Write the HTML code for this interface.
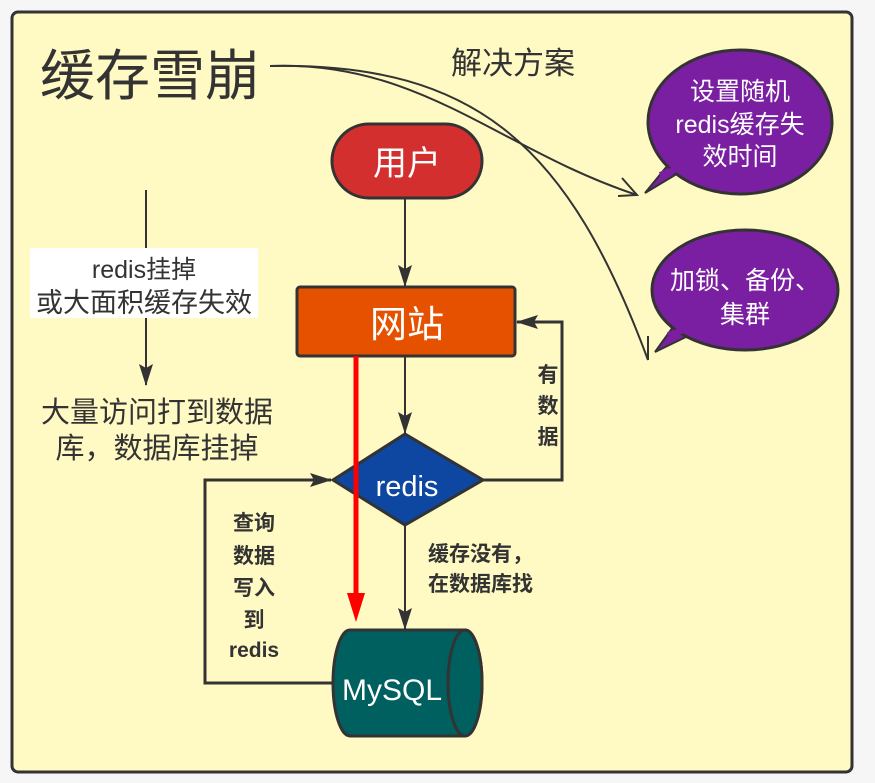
<!DOCTYPE html>
<html><head><meta charset="utf-8"><style>
html,body{margin:0;padding:0;background:#f6f6f6;}
svg{display:block;}
text{font-family:"Liberation Sans","Noto Sans CJK SC",sans-serif;}
</style></head><body>
<svg width="875" height="783" viewBox="0 0 875 783" xmlns="http://www.w3.org/2000/svg">
<defs>
<marker id="ah" viewBox="0 0 22 14" refX="21" refY="7" markerWidth="22" markerHeight="14" orient="auto-start-reverse" markerUnits="userSpaceOnUse">
<path d="M0,0 L22,7 L0,14 L4,7 z" fill="#333"/></marker>
</defs>
<rect x="12" y="12" width="840" height="760" rx="6" fill="#fff9c4" stroke="#333" stroke-width="3"/>
<text x="40" y="95" font-size="55" fill="#333">缓存雪崩</text>
<text x="451" y="74" font-size="31" fill="#333">解决方案</text>

<!-- curves -->
<path d="M270,66 C420,60 500,150 637,195" fill="none" stroke="#333" stroke-width="2"/>
<path d="M622,178 L637,195 L618,196" fill="none" stroke="#333" stroke-width="2"/>
<path d="M270,66 C480,62 570,150 648,360" fill="none" stroke="#333" stroke-width="2"/>
<path d="M648,336 L648,360" fill="none" stroke="#333" stroke-width="2"/>

<!-- bubbles -->
<path d="M680,172 L645,193 L672,160 Z" fill="#7b1fa2" stroke="#333" stroke-width="2"/>
<ellipse cx="740" cy="122" rx="92" ry="72" fill="#7b1fa2" stroke="#333" stroke-width="3"/>
<path d="M660,175 L680,168" stroke="#7b1fa2" stroke-width="6"/>
<text x="740" y="100" font-size="25" fill="#fff" text-anchor="middle">设置随机</text>
<text x="740" y="133" font-size="25" fill="#fff" text-anchor="middle">redis缓存失</text>
<text x="740" y="165" font-size="25" fill="#fff" text-anchor="middle">效时间</text>

<path d="M690,335 L655,352 L678,320 Z" fill="#7b1fa2" stroke="#333" stroke-width="2"/>
<ellipse cx="745" cy="290" rx="93" ry="60" fill="#7b1fa2" stroke="#333" stroke-width="3"/>
<path d="M668,335 L690,328" stroke="#7b1fa2" stroke-width="6"/>
<text x="745" y="289" font-size="25" fill="#fff" text-anchor="middle">加锁、备份、</text>
<text x="745" y="323" font-size="25" fill="#fff" text-anchor="middle">集群</text>

<!-- left flow -->
<line x1="146" y1="190" x2="146" y2="385" stroke="#333" stroke-width="2" marker-end="url(#ah)"/>
<rect x="30" y="248" width="228" height="70" fill="#fff"/>
<text x="144" y="278" font-size="25" fill="#333" text-anchor="middle">redis挂掉</text>
<text x="144" y="312" font-size="27" fill="#333" text-anchor="middle">或大面积缓存失效</text>
<text x="157" y="422" font-size="29" fill="#333" text-anchor="middle">大量访问打到数据</text>
<text x="157" y="458" font-size="29" fill="#333" text-anchor="middle">库，数据库挂掉</text>

<!-- main flow -->
<rect x="332" y="124" width="150" height="74" rx="37" fill="#d32f2f" stroke="#333" stroke-width="3"/>
<text x="407" y="175" font-size="34" fill="#fff" text-anchor="middle">用户</text>
<line x1="405" y1="198" x2="405" y2="286" stroke="#333" stroke-width="2" marker-end="url(#ah)"/>
<rect x="297" y="287" width="218" height="69" rx="3" fill="#e65100" stroke="#333" stroke-width="3"/>
<text x="407" y="337" font-size="37" fill="#fff" text-anchor="middle">网站</text>
<line x1="405" y1="356" x2="405" y2="433" stroke="#333" stroke-width="2" marker-end="url(#ah)"/>
<polygon points="405,434 483,480 405,525 333,480" fill="#0d47a1" stroke="#333" stroke-width="3"/>
<text x="407" y="496" font-size="29" fill="#fff" text-anchor="middle">redis</text>
<polyline points="483,480 562,480 562,322 517,322" fill="none" stroke="#333" stroke-width="3" marker-end="url(#ah)"/>
<text x="548" y="382" font-size="21" font-weight="bold" fill="#333" text-anchor="middle">有</text>
<text x="548" y="413" font-size="21" font-weight="bold" fill="#333" text-anchor="middle">数</text>
<text x="548" y="444" font-size="21" font-weight="bold" fill="#333" text-anchor="middle">据</text>
<line x1="405" y1="525" x2="405" y2="629" stroke="#333" stroke-width="2" marker-end="url(#ah)"/>
<text x="428" y="561" font-size="21" font-weight="bold" fill="#333">缓存没有，</text>
<text x="428" y="591" font-size="21" font-weight="bold" fill="#333">在数据库找</text>

<!-- mysql -->
<path d="M350,630 L465,630 A17,53 0 0 1 465,736 L350,736 A17,53 0 0 1 350,630 Z" fill="#005f5f" stroke="#333" stroke-width="3"/>
<ellipse cx="465" cy="683" rx="17" ry="53" fill="#005f5f" stroke="#333" stroke-width="3"/>
<text x="392" y="700" font-size="30" fill="#fff" text-anchor="middle">MySQL</text>

<polyline points="333,683 205,683 205,480 331,480" fill="none" stroke="#333" stroke-width="3" marker-end="url(#ah)"/>
<g font-size="21" font-weight="bold" fill="#333" text-anchor="middle">
<text x="254" y="530">查询</text>
<text x="254" y="563">数据</text>
<text x="254" y="595">写入</text>
<text x="254" y="627">到</text>
<text x="254" y="657">redis</text>
</g>

<!-- red arrow -->
<line x1="356" y1="356" x2="356" y2="598" stroke="#ff0000" stroke-width="5"/>
<polygon points="347,593 365,593 356,622" fill="#ff0000"/>
</svg>
</body></html>
